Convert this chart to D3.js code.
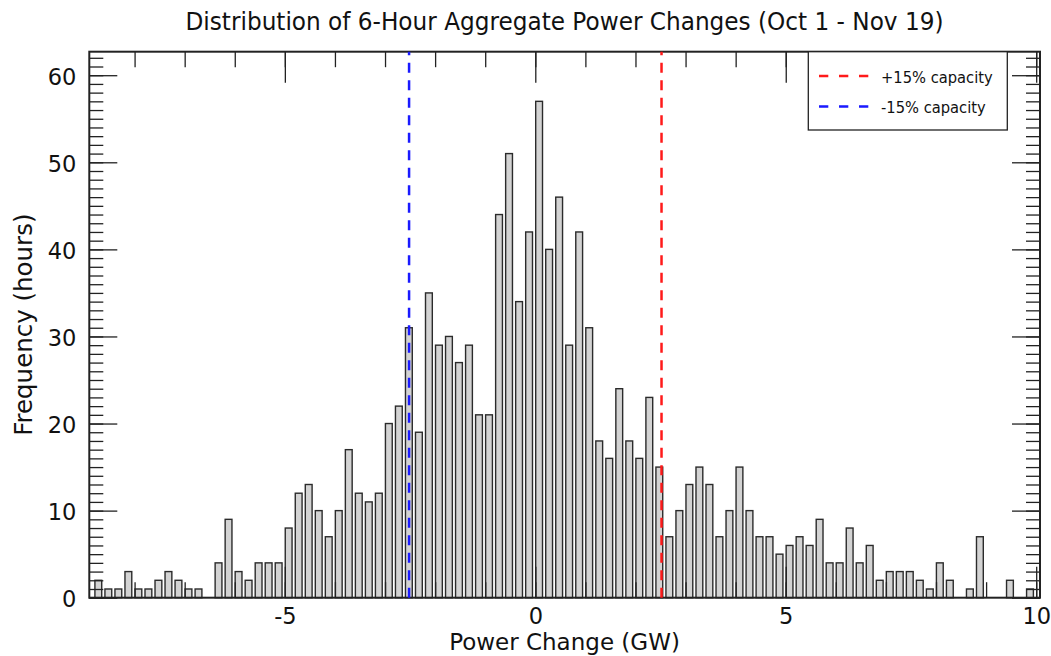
<!DOCTYPE html>
<html>
<head>
<meta charset="utf-8">
<script src="https://cdn.jsdelivr.net/npm/d3@7"></script>
<style>
  body { margin: 0; background: #fff; }
  text { font-family: "DejaVu Sans", sans-serif; fill: #111; }
</style>
</head>
<body>
<script>
// histogram counts per 0.2 GW bin, left to right
var counts = [2, 1, 1, 3, 1, 1, 2, 3, 2, 1, 1, 0, 4, 9, 3, 2, 4, 4, 4, 8,
              12, 13, 10, 7, 10, 17, 12, 11, 12, 20, 22, 31, 19, 35, 29, 30, 27, 29, 21, 21,
              44, 51, 34, 42, 57, 40, 46, 29, 42, 31, 18, 16, 24, 18, 16, 23, 15, 7, 10, 13,
              15, 13, 7, 10, 15, 10, 7, 7, 5, 6, 7, 6, 9, 4, 4, 8, 4, 6, 2, 3,
              3, 3, 2, 1, 4, 2, 0, 1, 7, 0, 0, 2, 0, 1];
var binStart = -8.824;   // left edge of first bin (GW)
var binWidth = 0.2;

var xDomain = [-8.904, 10.076];
var yDomain = [0, 62.7];
var xMajorTicks = [-5, 0, 5, 10];
var yMajorTicks = [0, 10, 20, 30, 40, 50, 60];

var capacityLines = [
  {label: "+15% capacity", value: 2.52, color: "#ff1a1a"},
  {label: "-15% capacity", value: -2.52, color: "#1a1aff"}
];

var W = 1051, H = 656;
var plot = {left: 89.3, right: 1040, top: 51.7, bottom: 597.7};

var svg = d3.select("body").append("svg")
  .attr("width", W)
  .attr("height", H);

var x = d3.scaleLinear().domain(xDomain).range([plot.left, plot.right]);
var y = d3.scaleLinear().domain(yDomain).range([plot.bottom, plot.top]);

// bars
var bw = x(binWidth) - x(0);
svg.append("g").selectAll("rect")
  .data(counts)
  .enter()
  .append("rect")
  .attr("x", function(d, i) { return x(binStart + i * binWidth) + bw * 0.16; })
  .attr("width", bw * 0.68)
  .attr("y", function(d) { return y(d); })
  .attr("height", function(d) { return y(0) - y(d); })
  .attr("fill", "#d3d3d3")
  .attr("stroke", "#2b2b2b")
  .attr("stroke-width", 1.4)
  .style("display", function(d) { return d > 0 ? null : "none"; });

// axes: minor ticks every 1 unit, major ticks longer
var xMinorVals = d3.range(Math.ceil(xDomain[0]), Math.floor(xDomain[1]) + 1);
var yMinorVals = d3.range(0, 63);

function styleAxis(g) {
  g.select(".domain").remove();
  g.selectAll("line").attr("stroke", "#222").attr("stroke-width", 1.3);
}

svg.append("g").attr("transform", "translate(0," + plot.bottom + ")")
  .call(d3.axisBottom(x).tickValues(xMinorVals).tickSize(-15.5).tickSizeOuter(0).tickFormat(""))
  .call(styleAxis);
var xLab = svg.append("g").attr("transform", "translate(0," + plot.bottom + ")")
  .call(d3.axisBottom(x).tickValues(xMajorTicks).tickSize(-31).tickSizeOuter(0).tickPadding(10)
        .tickFormat(function(d) { return String(d); }))
  .call(styleAxis);
xLab.selectAll("text").style("font-size", "22.5px").style("font-family", "DejaVu Sans").attr("fill", "#111");

svg.append("g").attr("transform", "translate(0," + plot.top + ")")
  .call(d3.axisTop(x).tickValues(xMinorVals).tickSize(-15.5).tickSizeOuter(0).tickFormat(""))
  .call(styleAxis);
svg.append("g").attr("transform", "translate(0," + plot.top + ")")
  .call(d3.axisTop(x).tickValues(xMajorTicks).tickSize(-31).tickSizeOuter(0).tickFormat(""))
  .call(styleAxis);

svg.append("g").attr("transform", "translate(" + plot.left + ",0)")
  .call(d3.axisLeft(y).tickValues(yMinorVals).tickSize(-14).tickSizeOuter(0).tickFormat(""))
  .call(styleAxis);
var yLab = svg.append("g").attr("transform", "translate(" + plot.left + ",0)")
  .call(d3.axisLeft(y).tickValues(yMajorTicks).tickSize(-28).tickSizeOuter(0).tickPadding(13)
        .tickFormat(function(d) { return String(d); }))
  .call(styleAxis);
yLab.selectAll("text").style("font-size", "22.5px").style("font-family", "DejaVu Sans")
  .attr("fill", "#111").attr("dy", "0.4em");

svg.append("g").attr("transform", "translate(" + plot.right + ",0)")
  .call(d3.axisRight(y).tickValues(yMinorVals).tickSize(-14).tickSizeOuter(0).tickFormat(""))
  .call(styleAxis);
svg.append("g").attr("transform", "translate(" + plot.right + ",0)")
  .call(d3.axisRight(y).tickValues(yMajorTicks).tickSize(-28).tickSizeOuter(0).tickFormat(""))
  .call(styleAxis);

// frame
svg.append("rect")
  .attr("x", plot.left).attr("y", plot.top)
  .attr("width", plot.right - plot.left).attr("height", plot.bottom - plot.top)
  .attr("fill", "none").attr("stroke", "#222").attr("stroke-width", 2);

// capacity lines
svg.append("g").selectAll("line")
  .data(capacityLines)
  .enter()
  .append("line")
  .attr("x1", function(d) { return x(d.value); })
  .attr("x2", function(d) { return x(d.value); })
  .attr("y1", plot.bottom)
  .attr("y2", plot.top)
  .attr("stroke", function(d) { return d.color; })
  .attr("stroke-width", 2.5)
  .attr("stroke-dasharray", "10,7.5");

// legend
var legend = svg.append("g");
legend.append("rect")
  .attr("x", 808.3).attr("y", plot.top)
  .attr("width", 199).attr("height", 78.3)
  .attr("fill", "#fff").attr("stroke", "#222").attr("stroke-width", 1.3);

var legendWidths = [111.7, 104.7];
capacityLines.forEach(function(d, i) {
  var ly = 76 + i * 30.5;
  legend.append("line")
    .attr("x1", 819).attr("x2", 869)
    .attr("y1", ly).attr("y2", ly)
    .attr("stroke", d.color).attr("stroke-width", 2.5)
    .attr("stroke-dasharray", "9.3,10.7");
  legend.append("text")
    .attr("x", 881).attr("y", ly + 6.5)
    .attr("textLength", legendWidths[i])
    .attr("lengthAdjust", "spacingAndGlyphs")
    .style("font-size", "16.5px")
    .text(d.label);
});

// title and axis labels
svg.append("text")
  .attr("x", 564.5).attr("y", 30)
  .attr("text-anchor", "middle")
  .attr("textLength", 758)
  .attr("lengthAdjust", "spacingAndGlyphs")
  .style("font-size", "24.5px")
  .text("Distribution of 6-Hour Aggregate Power Changes (Oct 1 - Nov 19)");

svg.append("text")
  .attr("x", 564.5).attr("y", 649.5)
  .attr("text-anchor", "middle")
  .style("font-size", "23px")
  .text("Power Change (GW)");

svg.append("text")
  .attr("transform", "translate(32," + ((plot.top + plot.bottom) / 2) + ") rotate(-90)")
  .attr("text-anchor", "middle")
  .style("font-size", "24.5px")
  .text("Frequency (hours)");
</script>
</body>
</html>
